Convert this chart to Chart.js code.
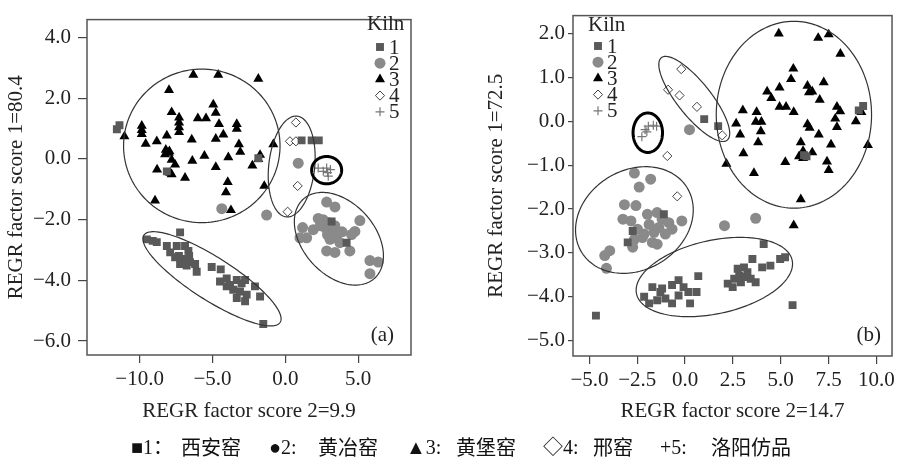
<!DOCTYPE html>
<html>
<head>
<meta charset="utf-8">
<script src="https://cdn.jsdelivr.net/npm/chart.js@4/dist/chart.umd.min.js"></script>
<style>
body { margin:0; background:#fff; width:899px; height:463px; overflow:hidden; position:relative; }
.box { position:absolute; top:0; height:463px; }
.capt { position:absolute; top:434px; font-size:20px; line-height:26px; white-space:nowrap; color:#111;
        font-family:"Liberation Serif","Noto Sans CJK SC",serif; }
.cjk { font-family:"Noto Sans CJK SC",serif; }
</style>
</head>
<body>
<div class="box" style="left:0;width:450px"><canvas id="plotA"></canvas></div>
<div class="box" style="left:450px;width:449px"><canvas id="plotB"></canvas></div>
<div class="capt" style="left:131px">■1：</div><div class="capt cjk" style="left:181px">西安窑</div>
<div class="capt" style="left:269px">●2:</div><div class="capt cjk" style="left:318px">黄冶窑</div>
<div class="capt" style="left:406px">▲3:</div><div class="capt cjk" style="left:456px">黄堡窑</div>
<div class="capt" style="left:543px">◇4:</div><div class="capt cjk" style="left:593px">邢窑</div>
<div class="capt" style="left:660px">+5:</div><div class="capt cjk" style="left:711px">洛阳仿品</div>
<script>
/* данные: (a) */
var kilnLabels = ['1', '2', '3', '4', '5'];
var xTicksA = [-10, -5, 0, 5];
var yTicksA = [4, 2, 0, -2, -4, -6];
var kiln1A = [[-11.56,0.98],[-11.38,1.11],[-8.13,-0.41],[1.12,0.61],[1.81,0.61],[2.3,0.61],[-1.85,0.02],
  [-7.22,-2.42],[-9.5,-2.65],[-9.1,-2.7],[-8.82,-2.74],[-8.13,-2.87],[-7.9,-3.08],[-7.45,-2.87],[-6.88,-2.87],
  [-6.65,-3.03],[-7.56,-3.24],[-6.99,-3.3],[-6.54,-3.4],[-6.19,-3.46],[-6.08,-3.72],[-7.22,-3.46],[-6.77,-3.51],
  [-7.3,-3.2],[-6.6,-3.2],[-5.05,-3.56],[-4.43,-3.64],[-4.48,-4.04],[-4.02,-3.94],[-3.79,-4.15],[-3.33,-3.99],
  [-2.76,-3.99],[-3.57,-4.31],[-3.11,-4.37],[-2.65,-4.47],[-2.08,-4.2],[-2.76,-4.69],[-1.73,-4.53],[-4.02,-4.2],
  [-3.33,-4.58],[-3.0,-4.1],[-1.51,-5.44],[4.21,-2.76],[3.18,-2.06]];
var kiln2A = [[0.89,-0.14],[-4.36,-1.64],[-1.28,-1.85],[2.84,-1.42],[3.41,-1.58],[2.26,-1.96],[2.6,-2.0],[3.0,-2.1],
  [3.4,-2.2],[3.2,-2.33],[2.8,-2.3],[2.4,-2.2],[1.19,-2.26],[1.47,-2.6],[1.01,-2.6],[5.12,-2.03],[4.78,-2.39],
  [4.55,-2.49],[3.07,-2.65],[3.52,-2.6],[3.75,-2.76],[2.84,-3.03],[3.41,-3.08],[4.43,-3.03],[5.81,-3.35],
  [6.38,-3.4],[5.81,-3.78],[1.92,-2.33],[2.9,-2.5],[3.3,-2.45],[3.9,-2.4]];
var kiln3A = [[-6.31,2.77],[-4.6,2.77],[-1.85,2.64],[-7.98,2.27],[-4.94,1.79],[-4.77,1.52],[-7.8,1.54],[-7.29,1.36],
  [-7.29,1.2],[-7.29,1.04],[-7.29,0.88],[-6.0,1.34],[-5.44,1.34],[-4.55,1.15],[-3.33,1.15],[-3.33,0.99],
  [-9.85,1.09],[-9.85,0.95],[-9.85,0.82],[-11.04,0.74],[-9.58,0.5],[-8.82,0.58],[-8.13,0.77],[-6.42,0.64],
  [-4.77,0.66],[-4.25,0.8],[-3.18,0.48],[-3.09,0.23],[-0.82,0.48],[-8.2,0.3],[-7.95,0.25],[-8.25,0.15],[-8.0,0.2],
  [-5.55,0.1],[-6.38,-0.06],[-3.91,0.05],[-1.73,0.13],[-1.85,-0.01],[-2.26,-0.22],[-7.8,-0.03],[-7.56,-0.19],
  [-7.9,-0.46],[-7.8,-0.51],[-8.8,-0.35],[-6.88,-0.62],[-4.77,-0.27],[-3.95,-0.76],[-4.07,-1.1],[-1.44,-0.89],
  [-8.94,-1.37],[-3.73,-1.69]];
var kiln4A = [[0.73,1.2],[0.32,0.58],[0.73,0.58],[0.85,-0.89],[0.16,-1.74]];
var kiln5A = [[2.26,-0.3],[2.84,-0.3],[2.95,-0.57],[2.61,-0.41],[2.9,-0.45],[3.1,-0.35]];
// эллипсы: центр и две полуоси в единицах данных
var ellipsesA = [
  {c:[-5.73,0.43], u:[5.37,0], v:[0,2.53]},
  {c:[0.44,-0.25], u:[0.36,1.66], v:[1.57,-0.07]},
  {c:[-5.03,-3.95], u:[4.67,-1.44], v:[0.83,0.58]},
  {c:[3.68,-2.63], u:[2.38,-1.33], v:[1.92,0.75]},
  {c:[2.84,-0.37], u:[1.03,0], v:[0,0.45], bold:true}
];

/* данные: (b) */
var xTicksB = [-5, -2.5, 0, 2.5, 5, 7.5, 10];
var yTicksB = [2, 1, 0, -1, -2, -3, -4, -5];
var kiln1B = [[9.31,0.35],[9.08,0.25],[6.22,-0.77],[6.35,-0.8],[1.0,0.05],[1.73,-0.11],
  [4.11,-2.8],[4.97,-3.14],[5.23,-3.1],[4.46,-3.29],[4.03,-3.33],[3.52,-3.14],[3.08,-3.33],[2.75,-3.36],[2.57,-3.59],
  [2.23,-3.7],[2.49,-3.78],[2.92,-3.67],[3.43,-3.59],[3.69,-3.67],[3.26,-3.44],[2.83,-3.52],[3.08,-3.55],
  [0.69,-3.53],[-1.71,-3.78],[-1.2,-3.81],[-0.68,-3.73],[-0.34,-3.62],[0.17,-3.89],[-1.03,-4.04],[-0.68,-4.15],
  [-1.46,-4.08],[-2.14,-4.0],[-1.88,-4.15],[0.26,-4.15],[-0.08,-3.78],[0.6,-3.89],[-0.34,-3.97],[-1.29,-3.89],
  [-4.66,-4.43],[5.62,-4.19],[-2.74,-2.5],[-3.0,-2.76],[-1.11,-2.12]];
var kiln2B = [[0.23,-0.19],[-2.65,-1.18],[-1.8,-1.32],[-2.4,-1.5],[-3.17,-1.9],[-2.57,-1.92],[-3.25,-2.23],[-2.83,-2.27],
  [-0.17,-2.27],[-1.97,-2.12],[-1.46,-2.08],[-1.2,-2.23],[-1.88,-2.35],[-0.85,-2.31],[-0.68,-2.46],[-1.37,-2.42],
  [-1.62,-2.53],[-1.03,-2.57],[-2.14,-2.57],[-2.49,-2.46],[-2.65,-2.69],[-2.23,-2.65],[-1.71,-2.76],[-1.46,-2.8],
  [-2.74,-2.87],[-3.94,-2.95],[-4.2,-3.06],[-4.11,-3.35],[2.06,-2.38],[3.69,-2.21]];
var kiln3B = [[4.9,2.0],[6.96,1.9],[7.51,1.98],[8.12,1.54],[5.66,1.2],[5.54,0.96],[4.29,0.68],[4.51,0.53],[4.94,0.77],
  [6.4,0.81],[6.48,0.66],[6.65,0.68],[7.25,0.89],[7.04,0.49],[4.94,0.33],[5.28,0.33],[5.68,0.21],[7.94,0.33],
  [8.11,0.23],[7.85,0.06],[7.94,-0.13],[8.93,0.0],[9.22,0.21],[3.02,0.25],[3.74,0.21],[3.7,-0.01],[3.99,-0.01],
  [3.96,-0.23],[2.67,-0.05],[2.88,-0.3],[3.82,-0.48],[3.05,-0.73],[6.4,-0.07],[6.51,-0.15],[6.99,-0.3],[6.05,-0.48],
  [7.63,-0.53],[6.17,-0.68],[5.96,-0.8],[6.65,-0.71],[6.17,-0.84],[5.24,-0.93],[7.42,-0.92],[7.51,-1.11],
  [2.16,-0.97],[3.6,-1.18],[9.56,-0.54],[6.05,-1.78],[5.68,-2.37]];
var kiln4B = [[-0.2,1.19],[-0.89,0.72],[-0.29,0.59],[0.62,0.33],[1.94,-0.32],[-0.93,-0.79],[-0.41,-1.71]];
var kiln5B = [[-2.26,-0.35],[-2.09,-0.19],[-1.92,-0.11],[-1.66,-0.09],[-1.49,-0.11],[-2.0,-0.24]];
var ellipsesB = [
  {c:[5.69,0.15], u:[4.06,0], v:[0,2.13]},
  {c:[0.48,0.51], u:[1.72,-0.94], v:[0.69,0.24]},
  {c:[-2.65,-2.25], u:[2.78,0.72], v:[1.32,-0.98]},
  {c:[1.53,-3.55], u:[4.07,0.38], v:[0.39,-0.82]},
  {c:[-1.95,-0.26], u:[0.77,0], v:[0,0.45], bold:true}
];

var serif = 'Liberation Serif';
var ink = '#222';
var markerStyles = [
  {pointStyle:'rect', pointRadius:5.6, backgroundColor:'#595959', borderColor:'#595959', borderWidth:0},
  {pointStyle:'circle', pointRadius:5.5, backgroundColor:'#8a8a8a', borderColor:'#8a8a8a', borderWidth:0},
  {pointStyle:'triangle', pointRadius:5.8, backgroundColor:'#000', borderColor:'#000', borderWidth:0},
  {pointStyle:'rectRot', pointRadius:4.6, backgroundColor:'#fff', borderColor:'#444', borderWidth:1},
  {pointStyle:'cross', pointRadius:4.5, backgroundColor:'#777', borderColor:'#777', borderWidth:1.2}
];

function toPts(arr) { return arr.map(function (p) { return {x: p[0], y: p[1]}; }); }
function fmt(v) { return (v < 0 ? '\u2212' : '') + Math.abs(v).toFixed(1); }

/* эллипсы, рамка, легенда Kiln, подпись панели */
var extras = {
  id: 'extras',
  afterDatasetsDraw: function (chart, args, o) {
    var ctx = chart.ctx, xs = chart.scales.x, ys = chart.scales.y, a = chart.chartArea;
    ctx.save();
    ctx.beginPath(); ctx.rect(a.left, a.top, a.right - a.left, a.bottom - a.top); ctx.clip();
    o.ellipses.forEach(function (e) {
      ctx.beginPath();
      for (var i = 0; i <= 160; i++) {
        var t = i / 160 * 2 * Math.PI;
        var dx = e.c[0] + e.u[0] * Math.cos(t) + e.v[0] * Math.sin(t);
        var dy = e.c[1] + e.u[1] * Math.cos(t) + e.v[1] * Math.sin(t);
        var px = xs.getPixelForValue(dx), py = ys.getPixelForValue(dy);
        if (i === 0) ctx.moveTo(px, py); else ctx.lineTo(px, py);
      }
      ctx.closePath();
      ctx.lineWidth = e.bold ? 3 : 1.2;
      ctx.strokeStyle = e.bold ? '#000' : '#333';
      ctx.stroke();
    });
    ctx.restore();

    ctx.save();
    ctx.strokeStyle = '#555'; ctx.lineWidth = 1.5;
    ctx.strokeRect(a.left, a.top, a.right - a.left, a.bottom - a.top);
    var L = o.legend;
    ctx.font = '21px "' + serif + '"'; ctx.textBaseline = 'middle'; ctx.textAlign = 'left';
    ctx.fillStyle = ink;
    ctx.fillText('Kiln', L.x, L.y);
    chart.data.datasets.forEach(function (ds, i) {
      var y = L.y + L.first + i * L.step;
      ctx.fillStyle = ds.backgroundColor; ctx.strokeStyle = ds.borderColor; ctx.lineWidth = ds.borderWidth;
      Chart.helpers.drawPoint(ctx, {pointStyle: ds.pointStyle, radius: ds.pointRadius, rotation: 0, borderWidth: ds.borderWidth}, L.x + L.sym, y);
      ctx.fillStyle = ink;
      ctx.fillText(ds.label, L.x + L.txt, y + 1);
    });
    ctx.textAlign = 'right';
    ctx.fillText(o.panel, a.right - o.panelDx, a.bottom - o.panelDy);
    ctx.restore();
  }
};

function makeChart(id, series, ellipses, xTicks, yTicks, cfg) {
  var ctx = document.getElementById(id).getContext('2d');
  return new Chart(ctx, {
    type: 'scatter',
    data: {
      datasets: series.map(function (s, i) {
        return Object.assign({label: kilnLabels[i], data: toPts(s)}, markerStyles[i]);
      })
    },
    options: {
      responsive: true,
      maintainAspectRatio: false,
      animation: false,
      events: [],
      layout: {padding: {top: 11, right: cfg.padRight, left: 0, bottom: 0}},
      plugins: {
        legend: {display: false},
        tooltip: {enabled: false},
        extras: {ellipses: ellipses, legend: cfg.legend, panel: cfg.panel, panelDx: cfg.panelDx, panelDy: cfg.panelDy}
      },
      scales: {
        x: {
          type: 'linear', min: cfg.xMin, max: cfg.xMax,
          afterBuildTicks: function (s) { s.ticks = xTicks.map(function (v) { return {value: v}; }); },
          afterFit: function (s) { s.height = cfg.xHeight; },
          border: {display: false},
          grid: {drawOnChartArea: false, tickLength: 8, color: '#444', lineWidth: 1.2},
          ticks: {padding: 4, autoSkip: false, maxRotation: 0, color: ink, font: {family: serif, size: 21}, callback: fmt},
          title: {display: true, text: cfg.xTitle, color: ink, font: {family: serif, size: 21}, padding: {top: 0, bottom: 39}}
        },
        y: {
          type: 'linear', min: cfg.yMin, max: cfg.yMax,
          afterBuildTicks: function (s) { s.ticks = yTicks.map(function (v) { return {value: v}; }); },
          afterFit: function (s) { s.width = cfg.yWidth; },
          border: {display: false},
          grid: {drawOnChartArea: false, tickLength: cfg.yTick, color: '#444', lineWidth: 1.2},
          ticks: {padding: cfg.yPad, autoSkip: false, color: ink, font: {family: serif, size: 21}, callback: fmt},
          title: {display: true, text: cfg.yTitle, color: ink, font: {family: serif, size: 21}, padding: {top: cfg.yTitlePad, bottom: 0}}
        }
      }
    },
    plugins: [extras]
  });
}

makeChart('plotA', [kiln1A, kiln2A, kiln3A, kiln4A, kiln5A], ellipsesA, xTicksA, yTicksA, {
  xMin: -13.61, xMax: 8.63, yMin: -6.46, yMax: 4.59,
  xHeight: 108, yWidth: 87, padRight: 39, yTick: 9, yPad: 7, yTitlePad: 4,
  xTitle: 'REGR factor score 2=9.9', yTitle: 'REGR factor score 1=80.4',
  legend: {x: 367, y: 24, first: 23, step: 16.2, sym: 13, txt: 22},
  panel: '(a)', panelDx: 17, panelDy: 20
});

makeChart('plotB', [kiln1B, kiln2B, kiln3B, kiln4B, kiln5B], ellipsesB, xTicksB, yTicksB, {
  xMin: -5.86, xMax: 10.82, yMin: -5.35, yMax: 2.41,
  xHeight: 107, yWidth: 123, padRight: 1, yTick: 5, yPad: 3, yTitlePad: 34,
  xTitle: 'REGR factor score 2=14.7', yTitle: 'REGR factor score 1=72.5',
  legend: {x: 138, y: 25, first: 21, step: 16.2, sym: 10, txt: 19},
  panel: '(b)', panelDx: 11, panelDy: 21
});
</script>
</body>
</html>
